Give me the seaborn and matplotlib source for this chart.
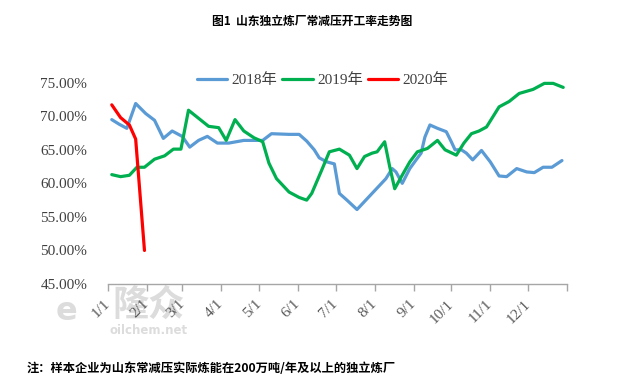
import matplotlib
matplotlib.use("Agg")
import matplotlib.pyplot as plt
import seaborn as sns
import pandas as pd

# weekly readings, common Jan-Dec axis (month-day), values in %
dates_2018 = ["01-04", "01-10", "01-16", "01-23", "01-31", "02-07", "02-14", "02-21", "03-01",
              "03-07", "03-14", "03-21", "03-29", "04-07", "04-19", "05-04", "05-11", "05-25",
              "06-02", "06-08", "06-14", "06-18", "06-24", "06-30", "07-04", "07-10", "07-18",
              "07-30", "08-10", "08-15", "08-18", "08-23", "08-29", "09-03", "09-07", "09-10",
              "09-14", "09-20", "09-27", "10-01", "10-04", "10-09", "10-13", "10-18", "10-25",
              "11-01", "11-08", "11-14", "11-22", "11-30", "12-06", "12-13", "12-20", "12-28"]
rate_2018 = [69.5, 68.8, 68.2, 71.9, 70.4, 69.4, 66.7, 67.8, 67.0,
             65.4, 66.4, 67.0, 66.0, 66.0, 66.4, 66.4, 67.4, 67.3,
             67.3, 66.3, 65.0, 63.8, 63.2, 62.9, 58.5, 57.5, 56.1,
             58.5, 60.7, 62.2, 61.7, 60.0, 62.2, 63.5, 64.5, 66.9,
             68.7, 68.2, 67.7, 66.2, 65.0, 65.0, 64.5, 63.5, 64.9,
             63.2, 61.1, 61.0, 62.2, 61.7, 61.6, 62.4, 62.4, 63.4]

dates_2019 = ["01-04", "01-11", "01-18", "01-24", "01-30", "02-07", "02-15", "02-22", "02-28",
              "03-06", "03-14", "03-22", "03-30", "04-05", "04-12", "04-19", "04-27", "05-04",
              "05-09", "05-15", "05-25", "06-02", "06-08", "06-12", "06-20", "06-26", "07-04",
              "07-12", "07-18", "07-24", "07-30", "08-03", "08-09", "08-13", "08-17", "08-22",
              "08-29", "09-04", "09-12", "09-20", "09-26", "10-05", "10-11", "10-17", "10-23",
              "10-29", "11-08", "11-16", "11-24", "12-05", "12-14", "12-21", "12-29"]
rate_2019 = [61.3, 61.0, 61.2, 62.4, 62.4, 63.6, 64.1, 65.1, 65.1,
             70.9, 69.7, 68.5, 68.3, 66.4, 69.5, 67.8, 66.8, 66.2,
             63.0, 60.7, 58.7, 57.9, 57.5, 58.5, 62.0, 64.7, 65.1,
             64.2, 62.2, 64.0, 64.5, 64.7, 66.2, 62.5, 59.2, 60.9,
             63.2, 64.7, 65.2, 66.4, 65.0, 64.2, 66.0, 67.4, 67.8,
             68.4, 71.4, 72.2, 73.4, 74.0, 74.9, 74.9, 74.3]

dates_2020 = ["01-04", "01-11", "01-18", "01-23", "01-30"]
rate_2020 = [71.7, 69.8, 68.7, 66.6, 50.0]

series = [("2018年", dates_2018, rate_2018, "#5b9bd5"),
          ("2019年", dates_2019, rate_2019, "#00b050"),
          ("2020年", dates_2020, rate_2020, "#ff0000")]

month_ticks = ["01-01", "02-01", "03-01", "04-01", "05-01", "06-01", "07-01",
               "08-01", "09-01", "10-01", "11-01", "12-01"]
month_labels = ["1/1", "2/1", "3/1", "4/1", "5/1", "6/1", "7/1",
                "8/1", "9/1", "10/1", "11/1", "12/1"]
y_ticks = [45, 50, 55, 60, 65, 70, 75]


def to_day(md):
    return pd.to_datetime("2018-" + pd.Series(md))


sns.set_theme(style="white")
plt.rcParams["font.family"] = ["Liberation Serif", "Noto Sans CJK SC"]

fig = plt.figure(figsize=(6.3, 3.84), dpi=100)
ax = fig.add_axes([108 / 630, 1 - 284 / 384, (567 - 108) / 630, (284 - 82.7) / 384])
ax.set_facecolor("none")

for name, d, v, c in series:
    df = pd.DataFrame({"date": to_day(d), "rate": v})
    sns.lineplot(data=df, x="date", y="rate", ax=ax, color=c, linewidth=2.3,
                 label=name, clip_on=False, zorder=3)

ax.set_ylim(45, 75)
ax.set_xlim(pd.Timestamp("2018-01-01"), pd.Timestamp("2019-01-01"))
ax.set_yticks(y_ticks)
ax.set_yticklabels([f"{t:.2f}%" for t in y_ticks])
xt = list(to_day(month_ticks)) + [pd.Timestamp("2019-01-01")]
ax.set_xticks(xt)
ax.set_xticklabels(month_labels + [""], rotation=45, ha="right", va="center",
                   rotation_mode="anchor")
ax.set_xlabel("")
ax.set_ylabel("")
ax.grid(False)

for s in ["left", "right", "top"]:
    ax.spines[s].set_visible(False)
ax.spines["bottom"].set_color("#a6a6a6")
ax.spines["bottom"].set_linewidth(1.0)
ax.tick_params(axis="x", bottom=True, length=5, width=1.0, color="#a6a6a6",
               labelsize=11, labelcolor="#595959", pad=8)
ax.tick_params(axis="y", left=False, labelsize=11, labelcolor="#404040", pad=9)

ax.legend(loc="center", bbox_to_anchor=(322.5 / 630, 1 - 80 / 384),
          bbox_transform=fig.transFigure, ncol=3, frameon=False, fontsize=11,
          handlelength=2.0, handletextpad=0.3, columnspacing=0.3,
          labelcolor="#404040")

# watermark
fig.text(66 / 630, 1 - 311 / 384, "e", fontsize=23, fontweight="bold", color="#dcdcdc",
         ha="center", va="center", family="DejaVu Sans", zorder=-1)
fig.text(149 / 630, 1 - 305 / 384, "隆众", fontsize=26, fontweight="bold", color="#dcdcdc",
         ha="center", va="center", family="Noto Sans CJK SC", zorder=-1)
fig.text(149 / 630, 1 - 330 / 384, "oilchem.net", fontsize=8.5, fontweight="bold",
         color="#dcdcdc", ha="center", va="center", family="DejaVu Sans", zorder=-1)

fig.text(312 / 630, 1 - 21 / 384, "图1  山东独立炼厂常减压开工率走势图", fontsize=8.5,
         fontweight="bold", ha="center", va="center", color="black",
         family=["Noto Sans CJK SC", "DejaVu Sans"])
fig.text(27 / 630, 1 - 368 / 384, "注：样本企业为山东常减压实际炼能在200万吨/年及以上的独立炼厂",
         fontsize=8.8, fontweight="bold", ha="left", va="center", color="black",
         family=["Noto Sans CJK SC", "DejaVu Sans"])

fig.savefig("out.png", dpi=100)
